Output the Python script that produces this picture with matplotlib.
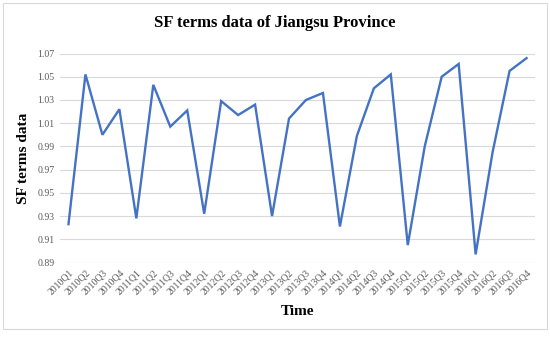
import matplotlib.pyplot as plt
from matplotlib.patches import Rectangle

# quarters 2010Q1 .. 2016Q4
quarters = [f"{y}Q{q}" for y in range(2010, 2017) for q in range(1, 5)]
sf_values = [0.923, 1.052, 1.000, 1.022,
             0.928, 1.043, 1.007, 1.021,
             0.932, 1.029, 1.017, 1.026,
             0.930, 1.014, 1.030, 1.036,
             0.921, 0.999, 1.040, 1.052,
             0.905, 0.990, 1.050, 1.061,
             0.897, 0.985, 1.055, 1.066]
y_ticks = [0.89, 0.91, 0.93, 0.95, 0.97, 0.99, 1.01, 1.03, 1.05, 1.07]

plt.rcParams["font.family"] = ["Liberation Serif", "DejaVu Serif"]

fig = plt.figure(figsize=(5.5, 3.37), dpi=100)
ax = fig.add_axes([60 / 550, 1 - 262.5 / 337, 475 / 550, 209 / 337])

# grauer Rahmen wie im Excel-Diagramm
fig.patches.append(Rectangle((3 / 550, 8 / 337), 544 / 550, 326 / 337,
                             transform=fig.transFigure, fill=False,
                             edgecolor="#d9d9d9", linewidth=0.8))

x = list(range(len(quarters)))
ax.plot(x, sf_values, color="#4472C4", linewidth=1.7, solid_joinstyle="miter")

ax.set_xlim(-0.5, len(quarters) - 0.5)
ax.set_ylim(0.89, 1.07)
ax.set_yticks(y_ticks)
ax.set_yticklabels([f"{t:.2f}" for t in y_ticks])
ax.set_xticks(x)
ax.set_xticklabels(quarters, rotation=45, ha="right", rotation_mode="anchor")

ax.grid(axis="y", color="#d9d9d9", linewidth=0.8)
ax.set_axisbelow(True)
for s in ax.spines.values():
    s.set_visible(False)
ax.tick_params(length=0, labelsize=7, labelcolor="#595959", pad=4)

ax.set_ylabel("SF terms data", fontsize=11, fontweight="bold", labelpad=5)
ax.set_xlabel("Time", fontsize=11, fontweight="bold", labelpad=6)
fig.suptitle("SF terms data of Jiangsu Province", fontsize=12,
             fontweight="bold", y=0.955)

fig.savefig("out.png", dpi=100)
